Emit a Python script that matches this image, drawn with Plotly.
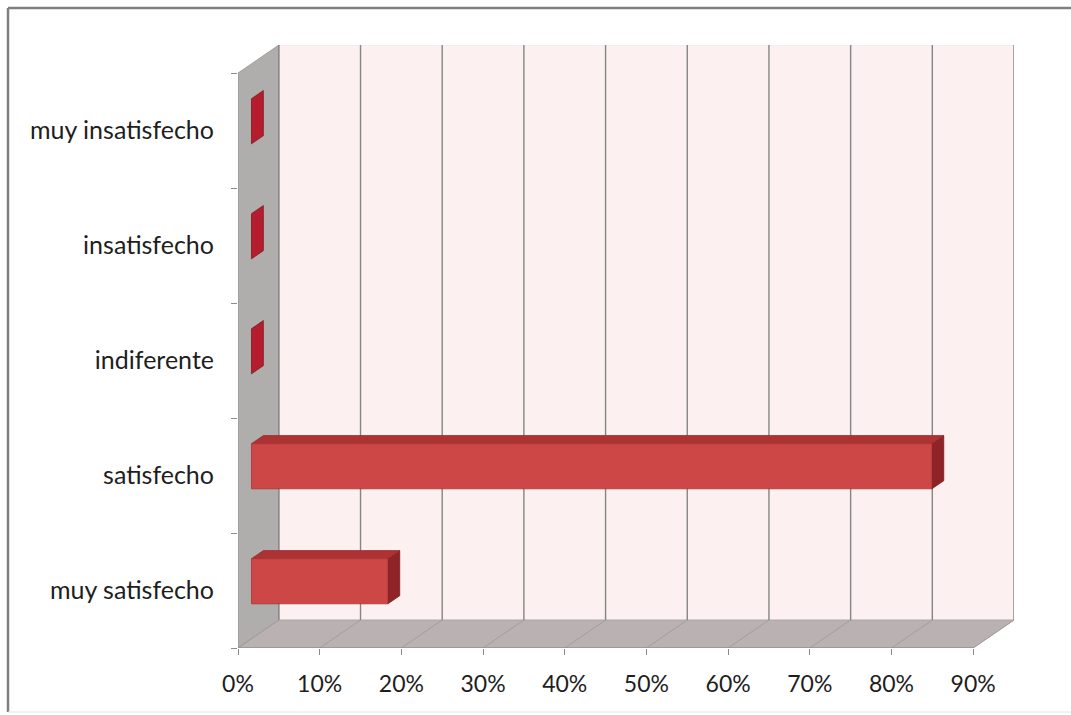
import plotly.graph_objects as go

# ---- data ----
categories = ["muy satisfecho", "satisfecho", "indiferente", "insatisfecho", "muy insatisfecho"]
values = [16.7, 83.3, 0.0, 0.0, 0.0]          # percent
x_ticks = [0, 10, 20, 30, 40, 50, 60, 70, 80, 90]

# ---- 3D projection parameters (depth offset in axis units) ----
DXP = 5.0      # depth shift along x (percent units)
DYB = 0.2435   # depth shift along y (band units)
F0, F1 = 0.33, 0.62   # bar front/back depth fraction
HALF = 0.196          # half bar height in band units
XMAX = 90
NB = len(categories)


def P(x, y, f):
    return x + f * DXP, y + f * DYB


def poly(pts):
    xs = [p[0] for p in pts] + [pts[0][0]]
    ys = [p[1] for p in pts] + [pts[0][1]]
    return xs, ys


fig = go.Figure()


def add_face(pts, fill, line_color=None, width=0.8):
    xs, ys = poly(pts)
    fig.add_trace(go.Scatter(x=xs, y=ys, mode="lines", fill="toself",
                             fillcolor=fill,
                             line=dict(color=line_color or fill, width=width),
                             hoverinfo="skip", showlegend=False))


def add_line(pts, color, width):
    fig.add_trace(go.Scatter(x=[p[0] for p in pts], y=[p[1] for p in pts], mode="lines",
                             line=dict(color=color, width=width),
                             hoverinfo="skip", showlegend=False))


# back wall
add_face([P(0, 0, 1), P(XMAX, 0, 1), P(XMAX, NB, 1), P(0, NB, 1)], "#FCF0F0", "#EADCDC", 0.5)
# side wall
add_face([P(0, 0, 0), P(0, 0, 1), P(0, NB, 1), P(0, NB, 0)], "#B0ADAD", "#9A9696", 0.8)
# floor
add_face([P(0, 0, 0), P(XMAX, 0, 0), P(XMAX, 0, 1), P(0, 0, 1)], "#BAB1B2", "#A8A0A0", 0.8)

# gridlines on floor (faint) and back wall
for t in x_ticks:
    add_line([P(t, 0, 0), P(t, 0, 1)], "#A59C9D", 1.0)
    add_line([P(t, 0, 1), P(t, NB, 1)], "#858585", 1.4)

# front axis lines
add_line([P(0, 0, 0), P(XMAX, 0, 0)], "#8A8A8A", 1.2)
add_line([P(0, 0, 0), P(0, NB, 0)], "#9A9A9A", 1.0)

# bars
for i, v in enumerate(values):
    c = i + 0.5
    lo, hi = c - HALF, c + HALF
    # end face
    add_face([P(v, lo, F0), P(v, lo, F1), P(v, hi, F1), P(v, hi, F0)], "#8E2328" if v > 0 else "#B51C2E", "#7A1C20", 0.8)
    if v > 0:
        # top face
        add_face([P(0, hi, F0), P(v, hi, F0), P(v, hi, F1), P(0, hi, F1)], "#AC3234", "#9A2A2C", 0.8)
        # front face
        add_face([P(0, lo, F0), P(v, lo, F0), P(v, hi, F0), P(0, hi, F0)], "#CD4746", "#A83434", 0.8)

fig.update_layout(
    width=1071, height=715,
    margin=dict(l=238, r=57, t=45, b=67),
    paper_bgcolor="white", plot_bgcolor="white",
    showlegend=False,
    font=dict(family="Lato, Open Sans, sans-serif", size=23, color="#1E1E1E"),
    xaxis=dict(range=[0, XMAX + DXP], tickvals=x_ticks,
               ticktext=[f"{t}%" for t in x_ticks],
               tickfont=dict(size=23),
               showgrid=False, zeroline=False, showline=False,
               ticks="outside", ticklen=6, tickcolor="#8A8A8A", tickwidth=1.2,
               ticklabelstandoff=9, fixedrange=True),
    yaxis=dict(range=[0, NB + DYB], tickvals=[i + 0.5 for i in range(NB)],
               ticktext=categories,
               tickfont=dict(size=25),
               showgrid=False, zeroline=False, showline=False,
               ticks="", ticklabelstandoff=23,
               minor=dict(tickvals=list(range(NB + 1)), ticks="outside", ticklen=6,
                          tickcolor="#8A8A8A", tickwidth=1.2, showgrid=False),
               fixedrange=True),
)

# outer chart border (top and left visible)
px_w, px_h = 1071 - 238 - 57, 715 - 45 - 67
def xp(px):
    return (px - 238) / px_w
def yp(py):
    return (648 - py) / px_h

fig.add_shape(type="line", xref="paper", yref="paper", x0=xp(8), x1=xp(1075), y0=yp(8), y1=yp(8),
              line=dict(color="#7F7F7F", width=2.5))
fig.add_shape(type="line", xref="paper", yref="paper", x0=xp(8), x1=xp(8), y0=yp(8), y1=yp(712),
              line=dict(color="#7F7F7F", width=2.5))
fig.add_shape(type="line", xref="paper", yref="paper", x0=xp(8), x1=xp(1075), y0=yp(712), y1=yp(712),
              line=dict(color="#E4E4E4", width=1))

fig.write_html("out.html")
